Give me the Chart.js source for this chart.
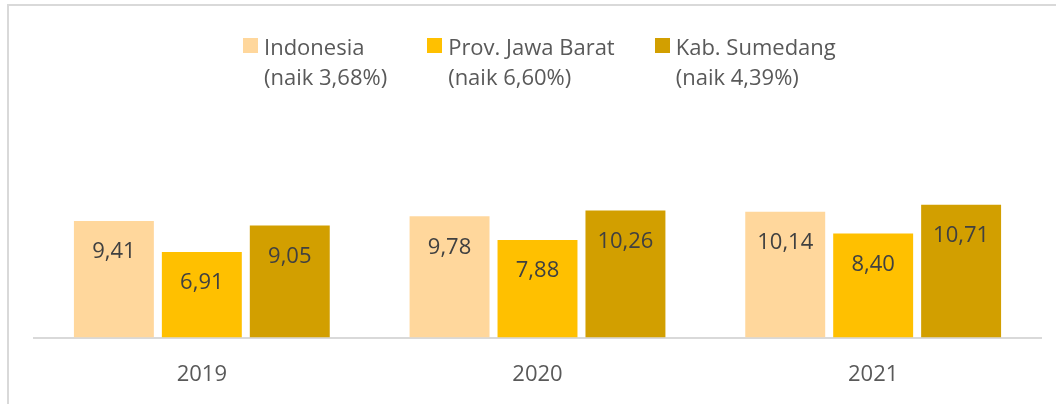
<!DOCTYPE html>
<html>
<head>
<meta charset="utf-8">
<script src="https://cdn.jsdelivr.net/npm/chart.js@4.4.0/dist/chart.umd.min.js"></script>
<style>
    html, body { margin: 0; padding: 0; background: #fff; }
    #wrap { position: relative; width: 1056px; height: 404px; overflow: hidden; }
    #frame { position: absolute; left: 7px; top: 4px; right: -10px; bottom: -10px;
             border-top: 2px solid #d9d9d9; border-left: 2px solid #d9d9d9; }
    canvas { position: absolute; left: 0; top: 0; }
    #legend { position: absolute; left: 243px; top: 31px; display: flex;
              font-family: "Open Sans", "Noto Sans", sans-serif; font-size: 22px;
              line-height: 30px; color: #595959; }
    #legend .item { display: flex; align-items: flex-start; margin-right: 40px; }
    #legend .box { width: 15px; height: 15px; margin-top: 7px; margin-right: 6px; flex: none; }
</style>
</head>
<body>
<div id="wrap">
    <div id="frame"></div>
    <canvas id="chart" width="1056" height="404"></canvas>
    <div id="legend"></div>
</div>
<script>
// data
const years = ['2019', '2020', '2021'];
const seriesNames = ['Indonesia', 'Prov. Jawa Barat', 'Kab. Sumedang'];
const growthNotes = ['(naik 3,68%)', '(naik 6,60%)', '(naik 4,39%)'];
const indonesia = [9.41, 9.78, 10.14];
const jawaBarat = [6.91, 7.88, 8.40];
const sumedang = [9.05, 10.26, 10.71];
const barColors = ['#FFD79C', '#FFC000', '#D29F00'];

const FONT = '"Open Sans", "Noto Sans", sans-serif';

// value labels drawn inside the top of each bar
const valueLabels = {
    id: 'valueLabels',
    afterDatasetsDraw(chart) {
        const ctx = chart.ctx;
        ctx.save();
        ctx.font = '22px ' + FONT;
        ctx.fillStyle = '#404040';
        ctx.textAlign = 'center';
        ctx.textBaseline = 'middle';
        chart.data.datasets.forEach((ds, i) => {
            chart.getDatasetMeta(i).data.forEach((bar, j) => {
                const txt = ds.data[j].toFixed(2).replace('.', ',');
                ctx.fillText(txt, bar.x, bar.y + 31);
            });
        });
        ctx.restore();
    }
};

// legend built in html (two lines per item)
function buildLegend(chart) {
    const box = document.getElementById('legend');
    box.innerHTML = '';
    chart.data.datasets.forEach((ds, i) => {
        const item = document.createElement('div');
        item.className = 'item';
        const sw = document.createElement('span');
        sw.className = 'box';
        sw.style.background = ds.backgroundColor;
        const txt = document.createElement('div');
        txt.innerHTML = ds.label + '<br>' + growthNotes[i];
        item.appendChild(sw);
        item.appendChild(txt);
        box.appendChild(item);
    });
}

const allSeries = [indonesia, jawaBarat, sumedang];

const chart = new Chart(document.getElementById('chart').getContext('2d'), {
    type: 'bar',
    data: {
        labels: years,
        datasets: allSeries.map((vals, i) => ({
            label: seriesNames[i],
            data: vals,
            backgroundColor: barColors[i],
            borderWidth: 0,
            categoryPercentage: 0.786,
            barPercentage: 0.909
        }))
    },
    options: {
        responsive: false,
        animation: false,
        layout: {
            padding: { left: 34, right: 15, top: 89.6, bottom: 0 }
        },
        plugins: {
            legend: { display: false },
            tooltip: { enabled: false }
        },
        scales: {
            x: {
                grid: { display: false },
                border: { display: true, color: '#d9d9d9', width: 2 },
                ticks: {
                    color: '#595959',
                    padding: 16,
                    font: { family: FONT, size: 22 }
                }
            },
            y: {
                display: false,
                min: 0,
                max: 20
            }
        }
    },
    plugins: [valueLabels]
});

buildLegend(chart);
</script>
</body>
</html>
